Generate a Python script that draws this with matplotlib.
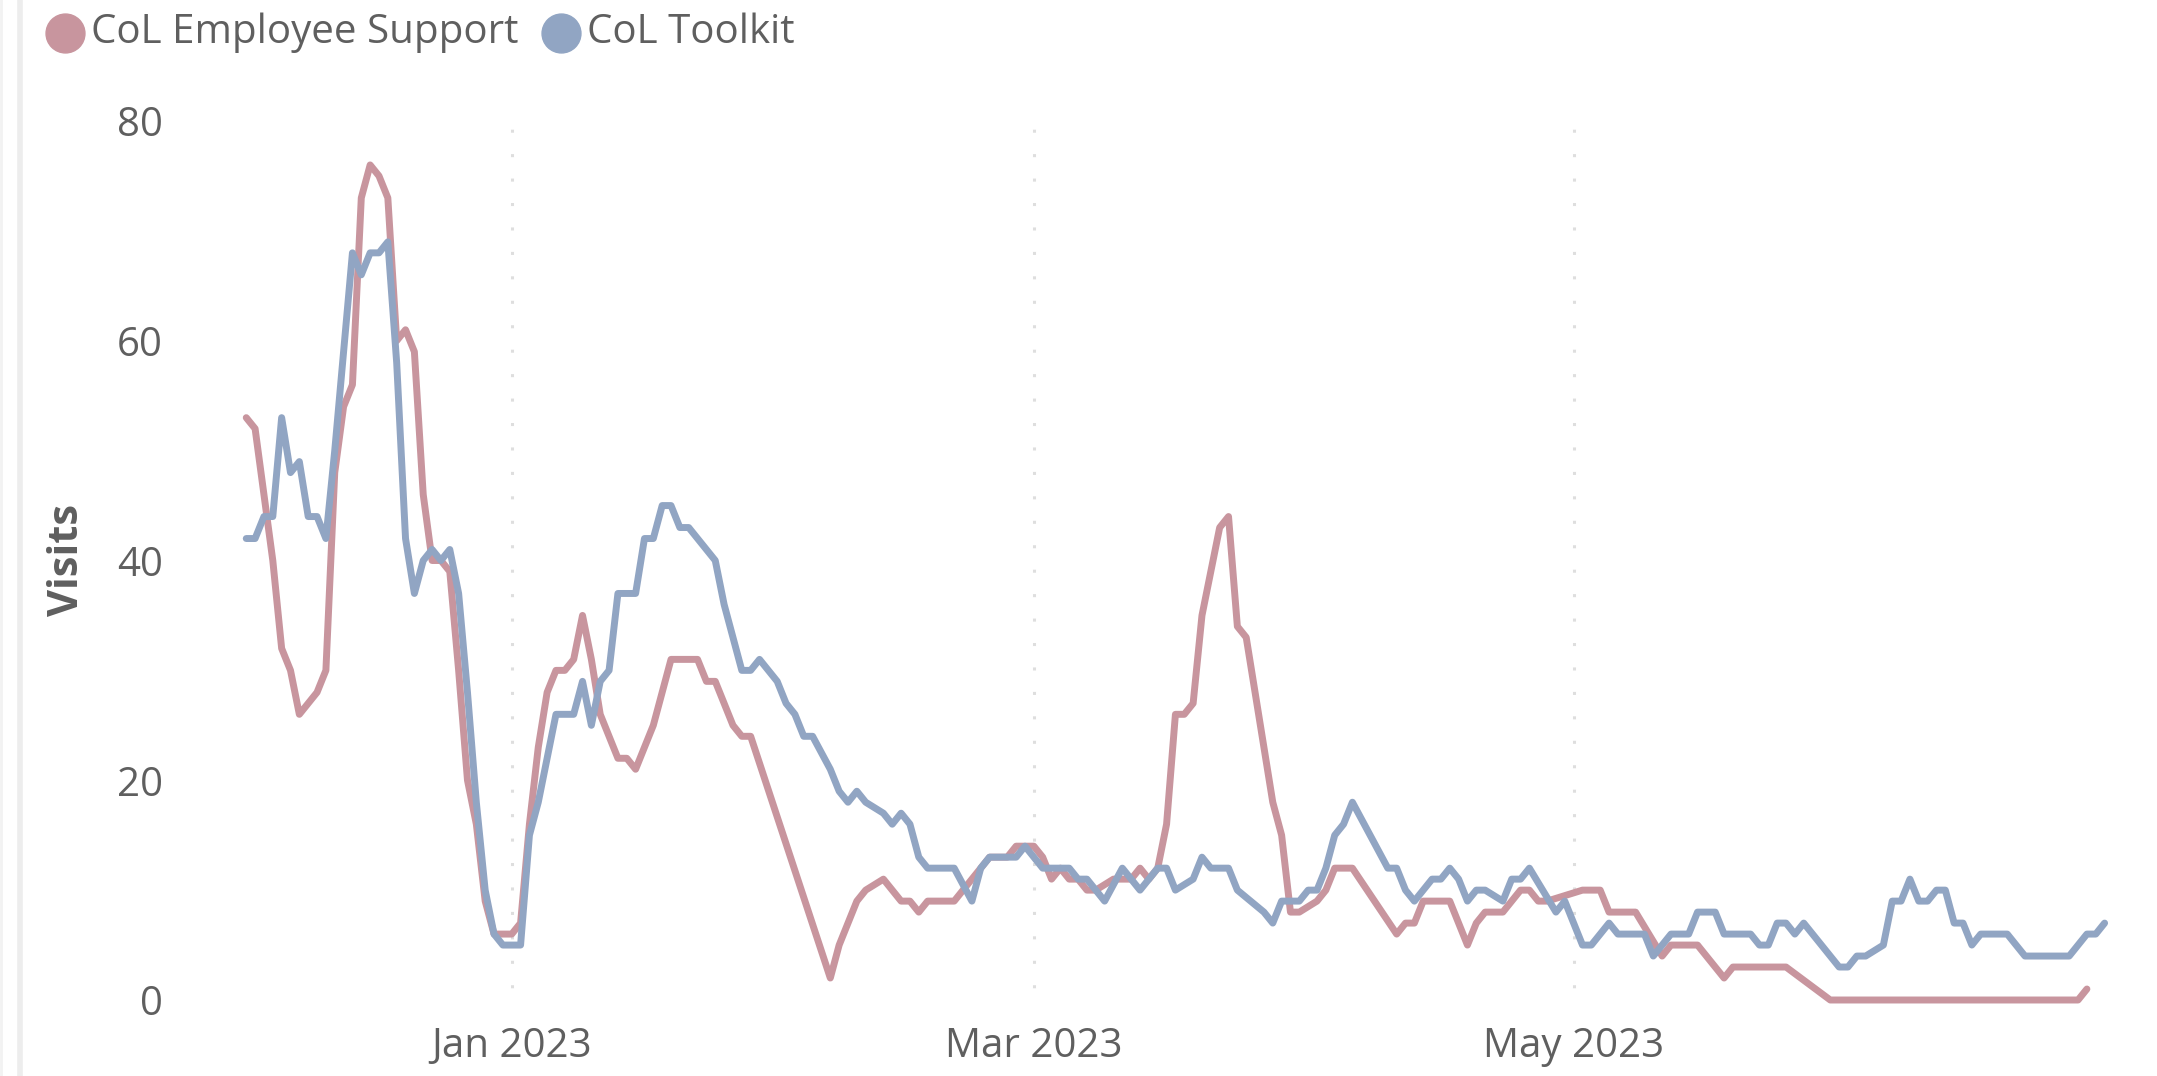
import numpy as np
import pandas as pd
import matplotlib
matplotlib.use("Agg")
import matplotlib.pyplot as plt
import matplotlib.dates as mdates
from matplotlib.lines import Line2D

# daily visits; days are offsets from 1 Jan 2023
ORIGIN = pd.Timestamp("2023-01-01")

support_day = [-30, -29, -28, -27, -26, -25, -24, -22, -21, -20, -19, -18, -17, -16, -15, -14,
               -13, -12, -11, -10, -9, -8, -7, -6, -5, -4, -3, -2, -1, 0, 1, 2, 3, 4, 5, 6, 7,
               8, 9, 10, 12, 13, 14, 16, 18, 21, 22, 23, 25, 26, 27, 36, 37, 39, 40, 42, 43,
               44, 45, 46, 47, 50, 51, 52, 53, 54, 56, 57, 59, 60, 61, 62, 63, 64, 65, 66, 68,
               70, 71, 72, 73, 74, 75, 76, 77, 78, 80, 81, 82, 83, 86, 87, 88, 89, 91, 92, 93,
               95, 100, 101, 102, 103, 106, 108, 109, 110, 112, 114, 115, 116, 117, 121, 123,
               124, 127, 130, 131, 134, 137, 138, 144, 149, 177, 178]
support_visits = [53, 52, 46, 40, 32, 30, 26, 28, 30, 48, 54, 56, 73, 76, 75, 73,
                  60, 61, 59, 46, 40, 40, 39, 30, 20, 16, 9, 6, 6, 6, 7, 16, 23, 28, 30, 30, 31,
                  35, 31, 26, 22, 22, 21, 25, 31, 31, 29, 29, 25, 24, 24, 2, 5, 9, 10, 11, 10,
                  9, 9, 8, 9, 9, 10, 11, 12, 13, 13, 14, 14, 13, 11, 12, 11, 11, 10, 10, 11,
                  11, 12, 11, 12, 16, 26, 26, 27, 35, 43, 44, 34, 33, 18, 15, 8, 8, 9, 10, 12,
                  12, 6, 7, 7, 9, 9, 5, 7, 8, 8, 10, 10, 9, 9, 10, 10,
                  8, 8, 4, 5, 5, 2, 3, 3, 0, 0, 1]

toolkit_day = [-30, -29, -28, -27, -26, -25, -24, -23, -22, -21, -20, -19, -18, -17, -16, -15,
               -14, -13, -12, -11, -10, -9, -8, -7, -6, -5, -4, -3, -2, -1, 0, 1, 2, 3, 5, 7,
               8, 9, 10, 11, 12, 14, 15, 16, 17, 18, 19, 20, 23, 24, 26, 27, 28, 30, 31, 32,
               33, 34, 36, 37, 38, 39, 40, 42, 43, 44, 45, 46, 47, 50, 52, 53, 54, 57, 58, 60,
               63, 64, 65, 67, 69, 71, 73, 74, 75, 77, 78, 79, 81, 82, 85, 86, 87, 89, 90, 91,
               92, 93, 94, 95, 99, 100, 101, 102, 104, 105, 106, 107, 108, 109, 110, 112, 113,
               114, 115, 118, 119, 121, 122, 124, 125, 128, 129, 131, 133, 134, 136, 137, 140,
               141, 142, 143, 144, 145, 146, 150, 151, 152, 153, 155, 156, 157, 158, 159, 160,
               161, 162, 163, 164, 165, 166, 169, 171, 176, 178, 179, 180]
toolkit_visits = [42, 42, 44, 44, 53, 48, 49, 44, 44, 42, 50, 59, 68, 66, 68, 68,
                  69, 58, 42, 37, 40, 41, 40, 41, 37, 28, 18, 10, 6, 5, 5, 5, 15, 18, 26, 26,
                  29, 25, 29, 30, 37, 37, 42, 42, 45, 45, 43, 43, 40, 36, 30, 30, 31, 29, 27, 26,
                  24, 24, 21, 19, 18, 19, 18, 17, 16, 17, 16, 13, 12, 12, 9, 12, 13, 13, 14, 12,
                  12, 11, 11, 9, 12, 10, 12, 12, 10, 11, 13, 12, 12, 10, 8, 7, 9, 9, 10, 10,
                  12, 15, 16, 18, 12, 12, 10, 9, 11, 11, 12, 11, 9, 10, 10, 9, 11,
                  11, 12, 8, 9, 5, 5, 7, 6, 6, 4, 6, 6, 8, 8, 6, 6,
                  5, 5, 7, 7, 6, 7, 3, 3, 4, 4, 5, 9, 9, 11, 9, 9,
                  10, 10, 7, 7, 5, 6, 6, 4, 4, 6, 6, 7]

PINK = "#c8959e"
BLUE = "#91a5c3"
TXT = "#5f5f5f"
FONT = ["Open Sans", "DejaVu Sans"]

W, H = 2157, 1076
plt.rcParams["font.family"] = FONT

fig = plt.figure(figsize=(W / 100, H / 100), dpi=100)
fig.patch.set_facecolor("white")

def fx(px):
    return px / W

def fy(py):
    return 1 - py / H

ax = fig.add_axes([fx(202), fy(1000), fx(2140) - fx(202), fy(121) - fy(1000)])

sx = ORIGIN + pd.to_timedelta(support_day, unit="D")
tx = ORIGIN + pd.to_timedelta(toolkit_day, unit="D")
ax.plot(sx, support_visits, color=PINK, lw=5.0, solid_joinstyle="round",
        solid_capstyle="round", clip_on=False, zorder=3)
ax.plot(tx, toolkit_visits, color=BLUE, lw=5.0, solid_joinstyle="round",
        solid_capstyle="round", clip_on=False, zorder=4)

ax.set_xlim(ORIGIN - pd.Timedelta(days=35), ORIGIN + pd.Timedelta(days=184))
ax.set_ylim(0, 80)
ax.set_yticks([0, 20, 40, 60, 80])
ax.xaxis.set_major_locator(mdates.MonthLocator(bymonth=[1, 3, 5]))
ax.xaxis.set_major_formatter(mdates.DateFormatter("%b %Y"))
ax.tick_params(axis="both", length=0, colors=TXT)
ax.tick_params(axis="y", pad=28, labelsize=29)
ax.tick_params(axis="x", pad=19, labelsize=29)

ax.grid(axis="x", color="#dedede", linestyle=(4, (1, 7)), linewidth=2.2)
ax.grid(axis="y", visible=False)
for sp in ax.spines.values():
    sp.set_visible(False)

fig.text(fx(67), fy(560), "Visits", rotation=90, ha="center", va="center",
         fontsize=30, fontweight="bold", color=TXT)

# legend (drawn by hand, top-left)
for cx, tx0, label, col in [(65, 91, "CoL Employee Support", PINK),
                            (561, 587, "CoL Toolkit", BLUE)]:
    fig.add_artist(Line2D([fx(cx)], [fy(33)], marker="o", markersize=28, color=col,
                          linestyle="none", transform=fig.transFigure))
    fig.text(fx(tx0), fy(33), label, ha="left", va="center", fontsize=29, color=TXT)

# faint left border of the visual
fig.add_artist(Line2D([fx(20), fx(20)], [0, 1], color="#ededed", lw=4,
                      transform=fig.transFigure))
fig.add_artist(Line2D([fx(1), fx(1)], [0, 1], color="#f2f2f2", lw=2,
                      transform=fig.transFigure))

fig.savefig("out.png", dpi=100, facecolor=fig.get_facecolor())
plt.close(fig)
